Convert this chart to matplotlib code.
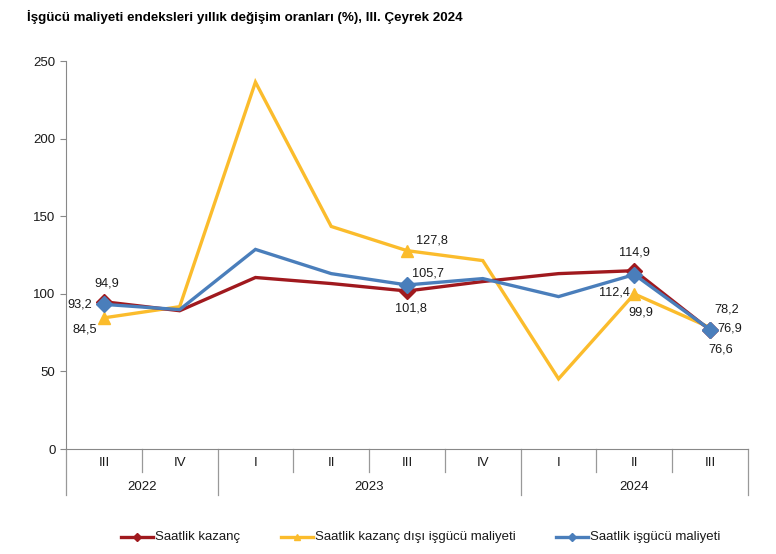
import matplotlib
matplotlib.use("Agg")
import matplotlib.pyplot as plt
import matplotlib.transforms as mtransforms
from matplotlib.lines import Line2D

plt.rcParams['font.family'] = ['Liberation Sans', 'DejaVu Sans']

quarters = ["III", "IV", "I", "II", "III", "IV", "I", "II", "III"]
years = ["2022", "2023", "2024"]
year_spans = [(0, 1), (2, 5), (6, 8)]

kazanc = [94.9, 89.1, 110.5, 106.6, 101.8, 107.9, 113.0, 114.9, 76.6]
kazanc_disi = [84.5, 91.7, 236.4, 143.4, 127.8, 121.4, 45.2, 99.9, 78.2]
isgucu = [93.2, 89.8, 128.6, 113.0, 105.7, 109.8, 98.2, 112.4, 76.9]

series_names = ["Saatlik kazanç", "Saatlik kazanç dışı işgücü maliyeti", "Saatlik işgücü maliyeti"]
colors = ["#A0191E", "#FBBC2C", "#4A7EBB"]
markers = ["D", "^", "D"]
labeled_idx = [0, 4, 7, 8]

# label offsets in pixels for labelled points (series, index): (dx, dy)
offsets = {
    (0, 0): (3, 18), (2, 0): (-24, 0), (1, 0): (-19, -12),
    (1, 4): (25, 10), (2, 4): (21, 11), (0, 4): (4, -17),
    (0, 7): (0, 18), (2, 7): (-20, -18), (1, 7): (6, -19),
    (1, 8): (17, 18), (2, 8): (20, 1), (0, 8): (11, -19),
}

W, H = 776, 554
fig = plt.figure(figsize=(W / 100, H / 100), dpi=100)
ax_l, ax_r, ax_t, ax_b = 66, 748, 61, 449
ax = fig.add_axes([ax_l / W, 1 - ax_b / H, (ax_r - ax_l) / W, (ax_b - ax_t) / H])
axh = ax_b - ax_t

x = list(range(len(quarters)))
all_series = [kazanc, kazanc_disi, isgucu]
for s in [1, 0, 2]:
    vals = all_series[s]
    ax.plot(x, vals, color=colors[s], lw=2.4, marker=markers[s],
            markevery=labeled_idx if s != 1 else [0, 4, 7], ms=8 if markers[s] == "D" else 9,
            solid_joinstyle='miter', zorder=3 + (s == 2))

for s in [0, 1, 2]:
    vals = all_series[s]
    for i in labeled_idx:
        dx, dy = offsets[(s, i)]
        txt = f"{vals[i]:.1f}".replace(".", ",")
        ax.annotate(txt, (i, vals[i]), xytext=(dx, dy), textcoords='offset pixels',
                    ha='center', va='center', fontsize=9.2, color='#1a1a1a')

ax.set_xlim(-0.5, len(quarters) - 0.5)
ax.set_ylim(0, 250)
ax.set_yticks([0, 50, 100, 150, 200, 250])
ax.tick_params(axis='y', labelsize=9.5, length=4, color='#888888', labelcolor='#1a1a1a')
ax.set_xticks([])
for side in ['top', 'right']:
    ax.spines[side].set_visible(False)
ax.spines['left'].set_color('#888888')
ax.spines['bottom'].set_color('#888888')

trans = mtransforms.blended_transform_factory(ax.transData, ax.transAxes)
short = -23 / axh
long_ = -46 / axh
year_bounds = {-0.5, 1.5, 5.5, 8.5}
for b in [i - 0.5 for i in range(len(quarters) + 1)]:
    ylow = long_ if b in year_bounds else short
    ax.plot([b, b], [0, ylow], transform=trans, color='#999999', lw=0.9, clip_on=False)

for i, q in enumerate(quarters):
    ax.text(i, -14 / axh, q, transform=trans, ha='center', va='center', fontsize=9.5, color='#1a1a1a')
for (a, b), yr in zip(year_spans, years):
    ax.text((a + b) / 2, -38 / axh, yr, transform=trans, ha='center', va='center', fontsize=9.5, color='#1a1a1a')

fig.text(27 / W, 1 - 17 / H, "İşgücü maliyeti endeksleri yıllık değişim oranları (%), III. Çeyrek 2024",
         fontsize=9.6, fontweight='bold', ha='left', va='center')

# legend drawn manually (Excel-like uneven spacing)
leg_y = 1 - 537 / H
leg_starts = [121, 281, 556]
for s, x0 in enumerate(leg_starts):
    fig.add_artist(Line2D([x0 / W, (x0 + 32) / W], [leg_y, leg_y], color=colors[s], lw=2.4,
                          transform=fig.transFigure))
    fig.add_artist(Line2D([(x0 + 16) / W], [leg_y], color=colors[s], marker=markers[s], ms=4.5,
                          transform=fig.transFigure))
    fig.text((x0 + 34) / W, leg_y, series_names[s], fontsize=9.5, ha='left', va='center', color='#1a1a1a')

fig.savefig("out.png", dpi=100)
